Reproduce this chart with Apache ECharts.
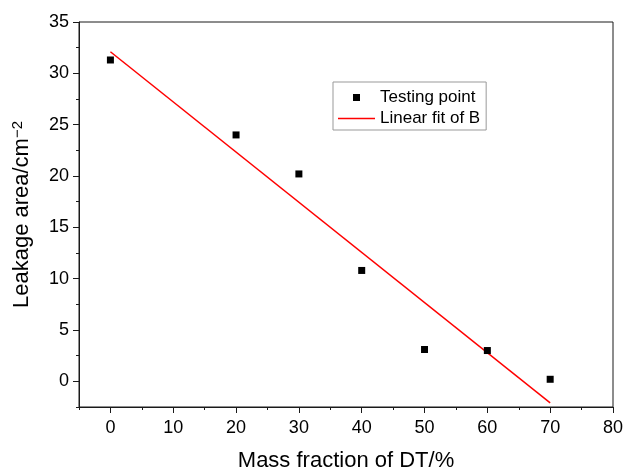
<!DOCTYPE html>
<html>
<head>
<meta charset="utf-8">
<script src="https://cdn.jsdelivr.net/npm/echarts@6/dist/echarts.min.js"></script>
<style>html,body{margin:0;padding:0;background:#fff}#c{width:625px;height:469px}</style>
</head>
<body>
<div id="c"></div>
<script>
// Data
var massFraction = [0, 20, 30, 40, 50, 60, 70];
var leakageArea = [31.3, 24.0, 20.2, 10.8, 3.1, 3.0, 0.2];
var fitX = [0, 70];
var fitY = [32.1, -2.1];
// Tick values
var xMajorTicks = [0, 10, 20, 30, 40, 50, 60, 70, 80];
var xMinorTicks = [-5, 5, 15, 25, 35, 45, 55, 65, 75];
var yMajorTicks = [0, 5, 10, 15, 20, 25, 30, 35];
var yMinorTicks = [-2.5, 2.5, 7.5, 12.5, 17.5, 22.5, 27.5, 32.5];

var FONT = '"Liberation Sans", Arial, Helvetica, sans-serif';
var chart = echarts.init(document.getElementById('c'), null, {renderer: 'canvas'});

function pairs(xs, ys) { return xs.map(function (x, i) { return [x, ys[i]]; }); }

var axisLineStyle = {color: '#1a1a1a', width: 1};

chart.setOption({
  backgroundColor: '#fff',
  animation: false,
  grid: {left: 79, right: 12, top: 22, bottom: 62, show: true, borderColor: '#1a1a1a', borderWidth: 1, outerBoundsMode: 'none', containLabel: false},
  legend: {
    orient: 'vertical', left: 333, top: 82,
    itemWidth: 37, itemHeight: 7, itemGap: 4,
    padding: [7, 6, 3, 5],
    borderColor: '#999', borderWidth: 1,
    symbolKeepAspect: true,
    textStyle: {fontFamily: FONT, fontSize: 17, color: '#000'},
    data: [
      {name: 'Testing point', icon: 'path://M0,0L10,0L10,10L0,10Z', itemStyle: {color: '#000', opacity: 1}},
      {name: 'Linear fit of B', icon: 'path://M0,0L37,0L37,1.5L0,1.5Z'}
    ]
  },
  xAxis: [{
    type: 'value', min: -5, max: 80,
    name: 'Mass fraction of DT/%', nameLocation: 'middle', nameGap: 43,
    nameTextStyle: {fontFamily: FONT, fontSize: 22, color: '#000'},
    axisLine: {show: true, onZero: false, lineStyle: axisLineStyle},
    axisTick: {show: true, inside: false, length: 6, customValues: xMajorTicks, lineStyle: axisLineStyle},
    axisLabel: {show: true, customValues: xMajorTicks, margin: 12, fontFamily: FONT, fontSize: 18, color: '#000'},
    splitLine: {show: false}
  }, {
    type: 'value', min: -5, max: 80, position: 'bottom',
    axisLine: {show: false, onZero: false},
    axisTick: {show: true, inside: false, length: 3, customValues: xMinorTicks, lineStyle: axisLineStyle},
    axisLabel: {show: false},
    splitLine: {show: false}
  }],
  yAxis: [{
    type: 'value', min: -2.5, max: 35,
    name: 'Leakage area/cm{sup|\u22122}', nameLocation: 'middle', nameGap: 45,
    nameTextStyle: {fontFamily: FONT, fontSize: 22, color: '#000',
      rich: {sup: {fontFamily: FONT, fontSize: 15, color: '#000', verticalAlign: 'top', padding: [0, 0, 9, 0]}}},
    axisLine: {show: true, onZero: false, lineStyle: axisLineStyle},
    axisTick: {show: true, inside: false, length: 6, customValues: yMajorTicks, lineStyle: axisLineStyle},
    axisLabel: {show: true, customValues: yMajorTicks, margin: 10, fontFamily: FONT, fontSize: 18, color: '#000'},
    splitLine: {show: false}
  }, {
    type: 'value', min: -2.5, max: 35, position: 'left',
    axisLine: {show: false, onZero: false},
    axisTick: {show: true, inside: false, length: 3, customValues: yMinorTicks, lineStyle: axisLineStyle},
    axisLabel: {show: false},
    splitLine: {show: false}
  }],
  series: [{
    name: 'Testing point', type: 'scatter', xAxisIndex: 0, yAxisIndex: 0,
    symbol: 'rect', symbolSize: 7,
    itemStyle: {color: '#000', opacity: 1},
    data: pairs(massFraction, leakageArea),
    z: 3
  }, {
    name: 'Linear fit of B', type: 'line', xAxisIndex: 0, yAxisIndex: 0,
    symbol: 'none', showSymbol: false,
    lineStyle: {color: '#ff0000', width: 1.5},
    itemStyle: {color: '#ff0000'},
    data: pairs(fitX, fitY),
    z: 2
  }]
});
</script>
</body>
</html>
